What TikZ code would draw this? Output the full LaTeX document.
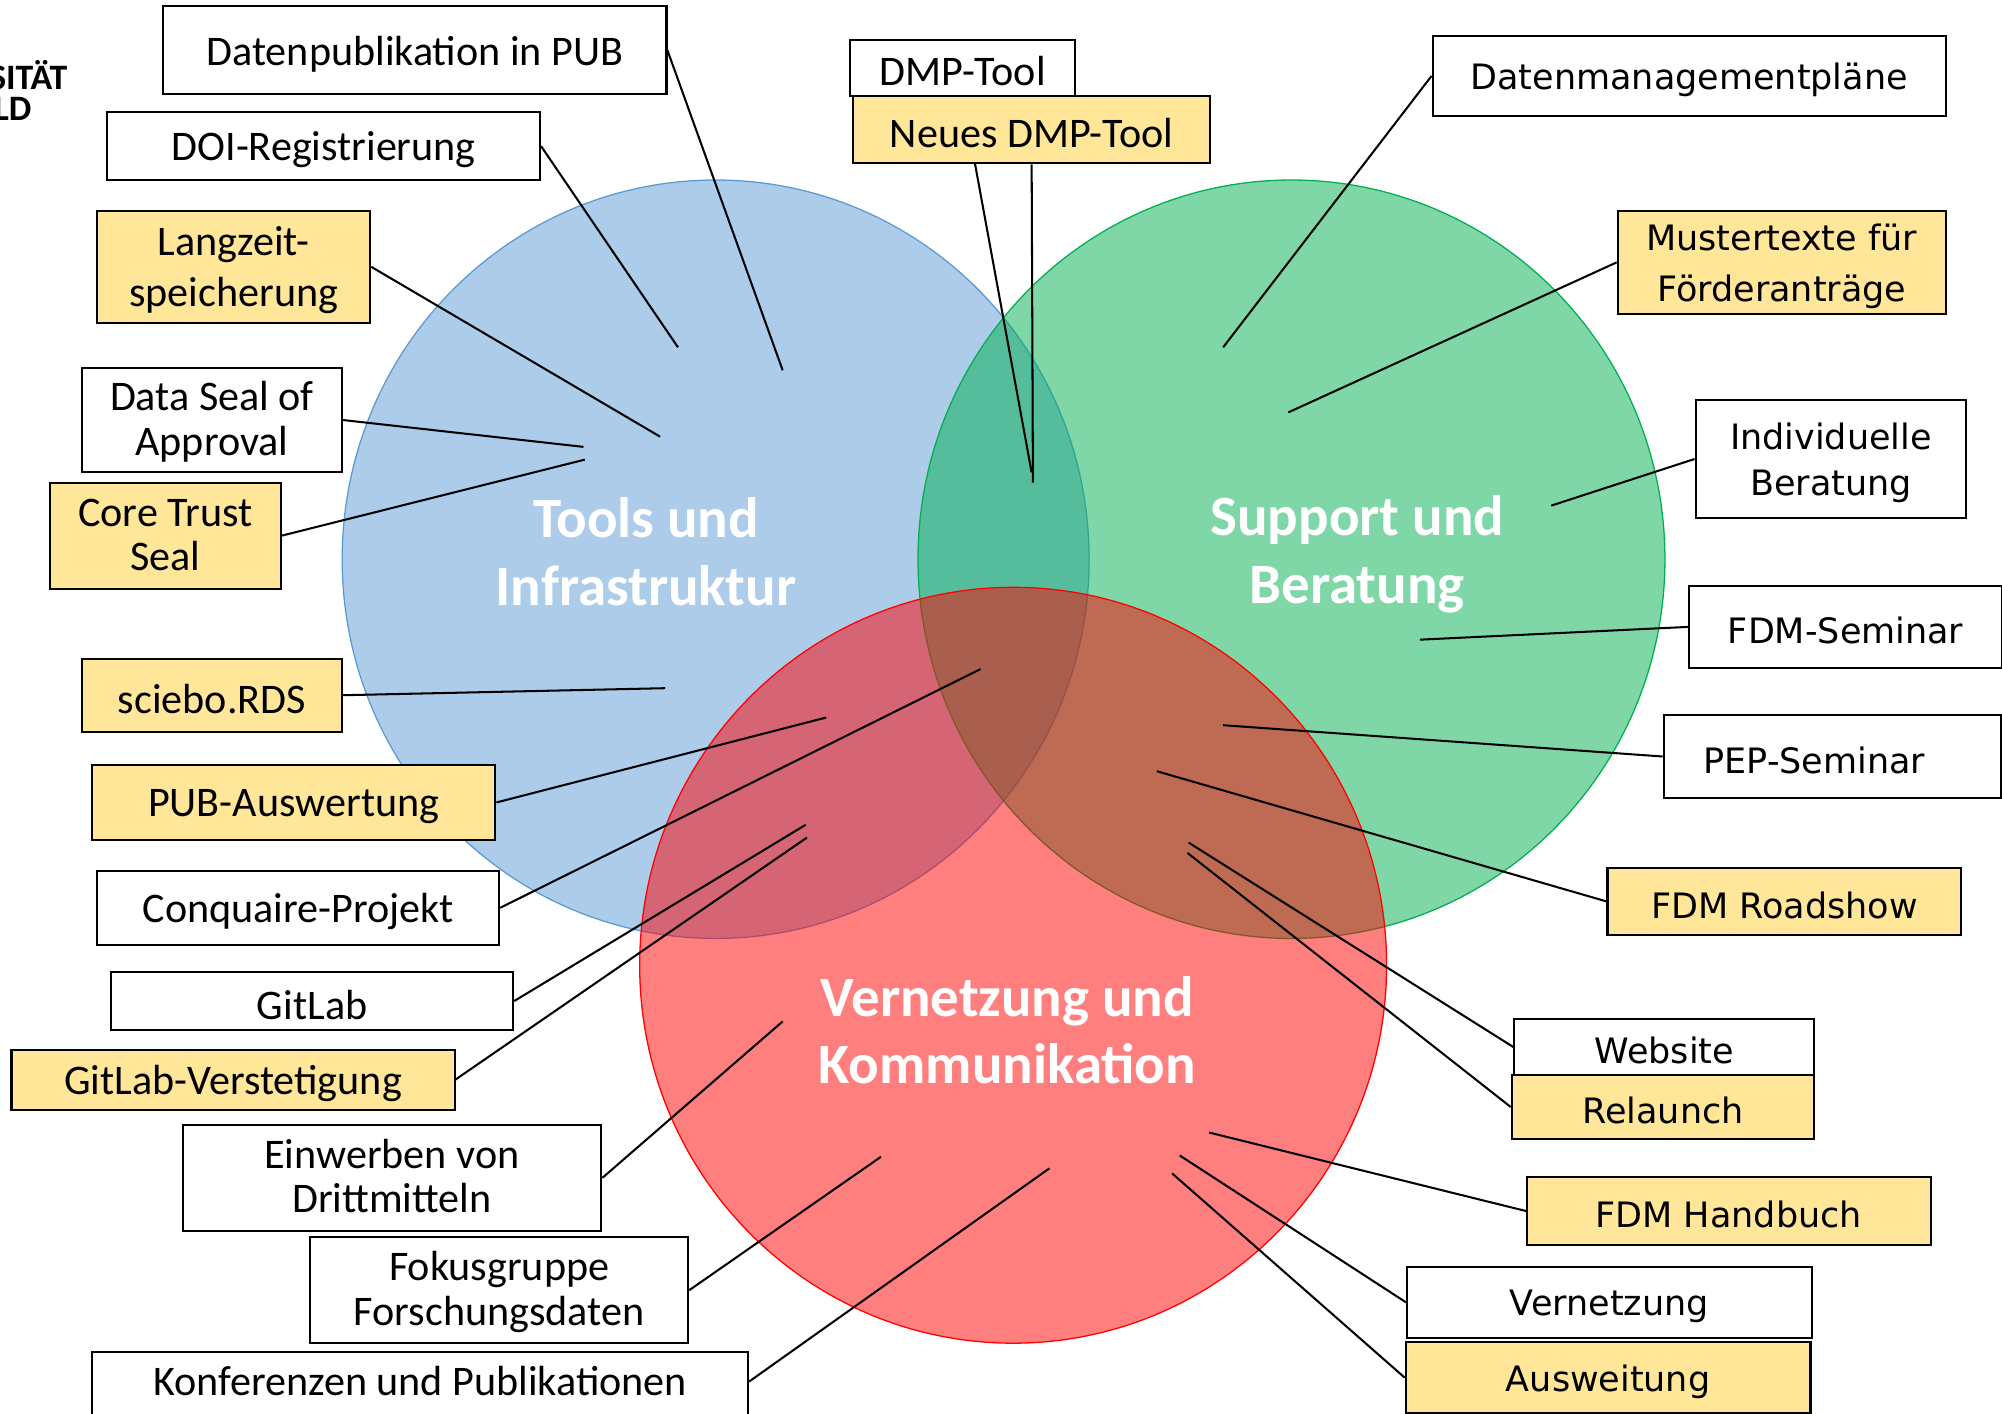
\documentclass[tikz,border=0pt]{standalone}
\usepackage{fontspec}
\setmainfont{Carlito}
\newfontfamily\verd{DejaVu Sans}
\definecolor{cblue}{HTML}{5B9BD5}
\definecolor{cgreen}{HTML}{00B050}
\definecolor{cred}{HTML}{FF0000}
\definecolor{cyel}{HTML}{FFE699}
\newcommand\dn[1]{\raisebox{-1.5pt}[\height][\depth]{#1}}
\newcommand\twol[2]{\dn{\begin{tabular}{@{}c@{}}#1\\#2\end{tabular}}}
\begin{document}
\begin{tikzpicture}[x=0.5pt,y=-0.5pt,
  box/.style={draw=black, line width=0.8pt, fill=white, inner sep=0pt, align=center,
              font=\fontsize{16.5}{17.5}\selectfont},
  ybox/.style={box, fill=cyel},
  vbox/.style={box, font=\verd\fontsize{13.7}{18}\selectfont},
  yvbox/.style={vbox, fill=cyel},
  conn/.style={line width=0.8pt, draw=black},
  ttl/.style={text=white, align=center, inner sep=0pt, font=\bfseries\fontsize{22.3}{26.5}\selectfont},
  logo/.style={inner sep=0pt, anchor=base east, font=\bfseries\fontsize{14}{14}\selectfont},
  venn/.style={line width=0.5pt, fill opacity=0.5}]
\useasboundingbox (0,0) rectangle (1568,1107);
\fill[white] (0,0) rectangle (1568,1107);

% circles
\filldraw[venn, fill=cblue, draw=cblue] (560.5,438) ellipse [x radius=146.25pt, y radius=148.5pt];
\filldraw[venn, fill=cgreen, draw=cgreen] (1011.5,438) ellipse [x radius=146.25pt, y radius=148.5pt];
\filldraw[venn, fill=cred, draw=cred] (793.5,756) ellipse [x radius=146.25pt, y radius=148pt];

% titles
\node[ttl] (ttools) at (506,432) {Tools und\\Infrastruktur};
\node[ttl] (tsupp) at (1063,434) {Support und\\Beratung};
\node[ttl] (tvern) at (789,807) {Vernetzung und\\Kommunikation};

% logo fragment
\node[logo] (logoa) at (53,70) {SITÄT};
\node[logo] (logob) at (25,94) {LD};

% free ends of connectors
\coordinate (e1) at (613,290);
\coordinate (e2) at (531,272);
\coordinate (e3) at (517,342);
\coordinate (e4) at (457,350);
\coordinate (e5) at (458,360);
\coordinate (e6) at (521,539);
\coordinate (e7) at (647,562);
\coordinate (e8) at (768,524);
\coordinate (e9) at (631,646);
\coordinate (e10) at (632,656);
\coordinate (e11) at (613,800);
\coordinate (e12) at (690,906);
\coordinate (e13) at (822,915);
\coordinate (e14) at (808,370);
\coordinate (e15) at (809,378);
\coordinate (e16) at (958,272);
\coordinate (e17) at (1009,323);
\coordinate (e18) at (1215,396);
\coordinate (e19) at (1112,501);
\coordinate (e20) at (958,568);
\coordinate (e21) at (906,604);
\coordinate (e22) at (931,660);
\coordinate (e23) at (930,668);
\coordinate (e24) at (947,887);
\coordinate (e25) at (924,905);
\coordinate (e26) at (918,919);

% left boxes
\node[box, minimum width=197pt, minimum height=34.5pt] (pubdat) at (325,39.5) {\dn{Datenpublikation in PUB}};
\node[box, minimum width=169.5pt, minimum height=26.5pt] (doi) at (253.5,114.5) {\dn{DOI-Registrierung}};
\node[ybox, minimum width=107pt, minimum height=44pt, font=\fontsize{16.5}{20}\selectfont] (lzs) at (183,209) {\twol{Langzeit-}{speicherung}};
\node[box, minimum width=102pt, minimum height=41pt] (dsa) at (166,329) {\twol{Data Seal of}{Approval}};
\node[ybox, minimum width=90.5pt, minimum height=41.5pt] (cts) at (129.5,419.5) {\twol{Core Trust}{Seal}};
\node[ybox, minimum width=102pt, minimum height=28.5pt] (sciebo) at (166,544.5) {\dn{sciebo.RDS}};
\node[ybox, minimum width=158pt, minimum height=29.5pt] (pubaus) at (230,628.5) {\dn{PUB-Auswertung}};
\node[box, minimum width=157.5pt, minimum height=29pt] (conq) at (233.5,711) {\dn{Conquaire-Projekt}};
\node[box, minimum width=157.5pt, minimum height=23pt] (gitlab) at (244.5,784) {\dn{GitLab}};
\node[ybox, minimum width=173.5pt, minimum height=23.5pt] (gitlabv) at (182.5,845.5) {\dn{GitLab-Verstetigung}};
\node[box, minimum width=164pt, minimum height=41.5pt] (einw) at (307,922.5) {\twol{Einwerben von}{Drittmitteln}};
\node[box, minimum width=148pt, minimum height=41.5pt] (fokus) at (391,1010.5) {\twol{Fokusgruppe}{Forschungsdaten}};
\node[box, minimum width=257pt, anchor=base, text height=17pt, text depth=19pt] (konf) at (329,1093) {Konferenzen und Publikationen};

% top middle boxes
\node[box, minimum width=88pt, minimum height=22pt] (dmp) at (754,53) {\dn{DMP-Tool}};
\draw[conn] (dmp.south) -- (e14);
\node[ybox, minimum width=140pt, minimum height=26.5pt] (ndmp) at (808,101.5) {\dn{Neues DMP-Tool}};

% right boxes
\node[vbox, minimum width=201pt, minimum height=31.5pt] (dmpl) at (1323,59.5) {\dn{Datenmanagementpläne}};
\node[yvbox, minimum width=128.5pt, minimum height=40.5pt, font=\verd\fontsize{13.7}{20}\selectfont] (must) at (1395.5,205.5) {\twol{Mustertexte für}{Förderanträge}};
\node[vbox, minimum width=106pt, minimum height=46.5pt] (indiv) at (1434,359.5) {\twol{Individuelle}{Beratung}};
\node[vbox, minimum width=122.5pt, minimum height=32pt] (fdmsem) at (1445.5,491) {\dn{FDM-Seminar}};
\node[vbox, minimum width=132pt, minimum height=32.5pt] (pep) at (1435,592.5) {\dn{PEP-Seminar}\hspace*{14pt}};
\node[yvbox, minimum width=138.5pt, minimum height=26pt] (road) at (1397.5,706) {\dn{FDM Roadshow}};
\node[vbox, minimum width=117.5pt, minimum height=22pt] (web) at (1303.5,820) {\dn{Website}};
\node[yvbox, minimum width=118.5pt, minimum height=25pt] (rel) at (1302.5,867) {\dn{Relaunch}};
\node[yvbox, minimum width=158pt, minimum height=26.5pt] (hand) at (1354,948.5) {\dn{FDM Handbuch}};
\node[vbox, minimum width=158.5pt, minimum height=28pt] (vern) at (1260.5,1020) {\dn{Vernetzung}};
\node[yvbox, minimum width=158.5pt, minimum height=28pt] (ausw) at (1259.5,1079) {\dn{Ausweitung}};

% connectors
\draw[conn] (pubdat.east) -- (e1);
\draw[conn] (doi.east) -- (e2);
\draw[conn] (lzs.east) -- (e3);
\draw[conn] (dsa.east) -- (e4);
\draw[conn] (cts.east) -- (e5);
\draw[conn] (sciebo.east) -- (e6);
\draw[conn] (pubaus.east) -- (e7);
\draw[conn] (conq.east) -- (e8);
\draw[conn] (gitlab.east) -- (e9);
\draw[conn] (gitlabv.east) -- (e10);
\draw[conn] (einw.east) -- (e11);
\draw[conn] (fokus.east) -- (e12);
\draw[conn] ([yshift=5.5pt]konf.base east) -- (e13);
\draw[conn] (ndmp.south) -- (e15);
\draw[conn] (dmpl.west) -- (e16);
\draw[conn] (must.west) -- (e17);
\draw[conn] (indiv.west) -- (e18);
\draw[conn] (fdmsem.west) -- (e19);
\draw[conn] (pep.west) -- (e20);
\draw[conn] (road.west) -- (e21);
\draw[conn] (web.west) -- (e22);
\draw[conn] (rel.west) -- (e23);
\draw[conn] (hand.west) -- (e24);
\draw[conn] (vern.west) -- (e25);
\draw[conn] (ausw.west) -- (e26);
\end{tikzpicture}
\end{document}
